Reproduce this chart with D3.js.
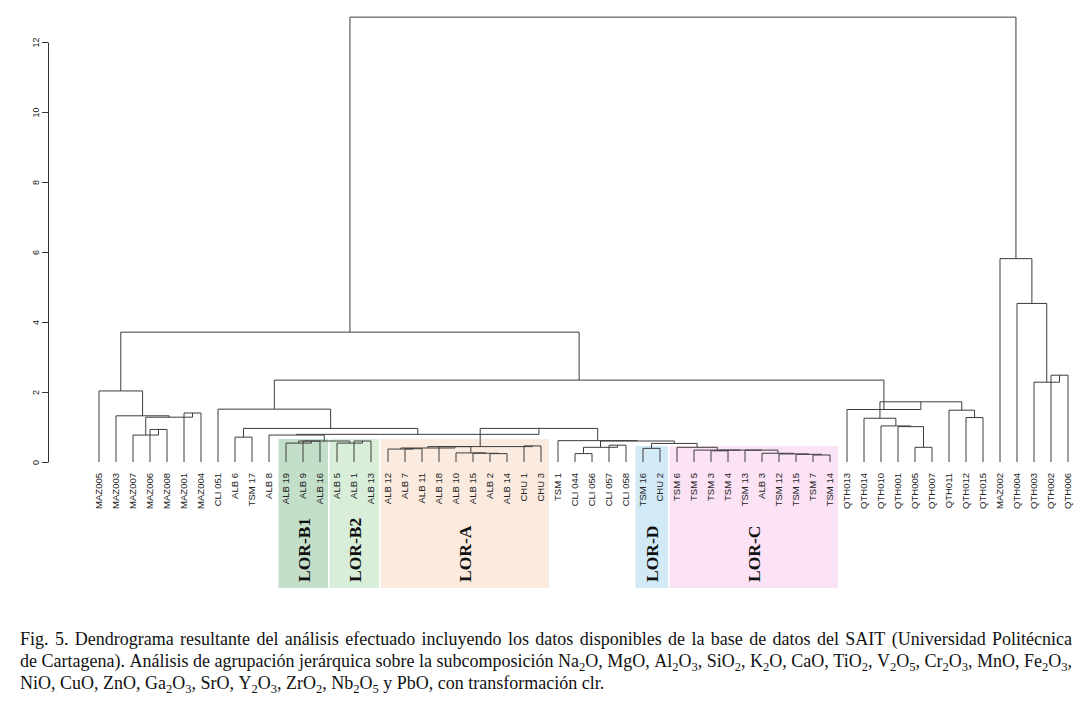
<!DOCTYPE html>
<html>
<head>
<meta charset="utf-8">
<script src="https://cdn.jsdelivr.net/npm/d3@7"></script>
<style>
  body { margin: 0; background: #fff; }
  svg { display: block; }
</style>
</head>
<body>
<svg id="chart" width="1092" height="704"></svg>
<script>
// leaf labels in the order they are drawn
const leaves = [
  "MAZ005", "MAZ003", "MAZ007", "MAZ006", "MAZ008", "MAZ001", "MAZ004",
  "CLI 051", "ALB 6", "TSM 17", "ALB 8",
  "ALB 19", "ALB 9", "ALB 16", "ALB 5", "ALB 1", "ALB 13",
  "ALB 12", "ALB 7", "ALB 11", "ALB 18", "ALB 10", "ALB 15", "ALB 2", "ALB 14", "CHU 1", "CHU 3",
  "TSM 1", "CLI 044", "CLI 056", "CLI 057", "CLI 058",
  "TSM 16", "CHU 2",
  "TSM 6", "TSM 5", "TSM 3", "TSM 4", "TSM 13", "ALB 3", "TSM 12", "TSM 15", "TSM 7", "TSM 14",
  "QTH013", "QTH014", "QTH010", "QTH001", "QTH005", "QTH007", "QTH011", "QTH012", "QTH015",
  "MAZ002", "QTH004", "QTH003", "QTH002", "QTH006"
];

// hclust style merge table: negative = leaf (1-based), positive = earlier merge step
const merges = [
  [-4, -5], [-3, 1], [-6, -7], [2, 3], [-2, 4], [-1, 5],
  [-9, -10],
  [-13, -14], [-12, 8], [-16, -17], [-15, 10], [9, 11], [-11, 12],
  [-19, -20], [-18, 14], [-24, -25], [-23, 16], [-22, 17], [-21, 18], [15, 19], [-26, -27], [20, 21],
  [-29, -30], [-31, -32], [23, 24],
  [-33, -34],
  [-43, -44], [-42, 27], [-41, 28], [-40, 29], [-39, 30], [-37, -38], [32, 31], [-36, 33], [-35, 34],
  [26, 35], [25, 36], [-28, 37], [22, 38], [13, 39], [7, 40], [-8, 41],
  [-49, -50], [-48, 43], [-47, 44], [-46, 45], [-52, -53], [-51, 47], [46, 48], [-45, 49],
  [42, 50], [6, 51],
  [-57, -58], [-56, 53], [-55, 54], [-54, 55],
  [52, 56]
];

const heights = [
  0.93, 0.77, 1.40, 1.28, 1.32, 2.03,
  0.71,
  0.60, 0.54, 0.60, 0.54, 0.60, 0.77,
  0.38, 0.37, 0.24, 0.25, 0.26, 0.44, 0.40, 0.46, 0.44,
  0.24, 0.48, 0.42,
  0.39,
  0.20, 0.22, 0.23, 0.25, 0.34, 0.32, 0.34, 0.34, 0.42,
  0.53, 0.60, 0.61, 0.96, 0.79, 0.96, 1.51,
  0.42, 1.01, 1.03, 1.25, 1.27, 1.48, 1.72, 1.50,
  2.34, 3.71,
  2.48, 2.28, 4.53, 5.81,
  12.71
];

const yTicks = [0, 2, 4, 6, 8, 10, 12];

// highlighted clusters: first and last leaf of each band
const groups = [
  { name: "LOR-B1", from: "ALB 19", to: "ALB 16" },
  { name: "LOR-B2", from: "ALB 5", to: "ALB 13" },
  { name: "LOR-A", from: "ALB 12", to: "CHU 3" },
  { name: "LOR-D", from: "TSM 16", to: "CHU 2" },
  { name: "LOR-C", from: "TSM 6", to: "TSM 14" }
];
const groupStyle = {
  "LOR-B1": { fill: "#c3dec9", top: 439 },
  "LOR-B2": { fill: "#d8eed9", top: 439 },
  "LOR-A": { fill: "#fbebdf", top: 439 },
  "LOR-D": { fill: "#d2eaf6", top: 446 },
  "LOR-C": { fill: "#fbe3f5", top: 446 }
};

const captionLines = [
  "Fig. 5. Dendrograma resultante del análisis efectuado incluyendo los datos disponibles de la base de datos del SAIT (Universidad Politécnica",
  "de Cartagena). Análisis de agrupación jerárquica sobre la subcomposición Na_2O, MgO, Al_2O_3, SiO_2, K_2O, CaO, TiO_2, V_2O_5, Cr_2O_3, MnO, Fe_2O_3,",
  "NiO, CuO, ZnO, Ga_2O_3, SrO, Y_2O_3, ZrO_2, Nb_2O_5 y PbO, con transformación clr."
];

const svg = d3.select("#chart");
svg.append("rect").attr("width", 1092).attr("height", 704).attr("fill", "#fff");

const x = d3.scalePoint().domain(leaves).range([99, 1068]);
const y = d3.scaleLinear().domain([0, 12]).range([462, 42]);

// x position of every merge node
const nodeX = [];
const childX = c => c < 0 ? x(leaves[-c - 1]) : nodeX[c - 1];
const childH = c => c < 0 ? 0 : heights[c - 1];
merges.forEach((m, i) => {
  nodeX[i] = (childX(m[0]) + childX(m[1])) / 2;
});

// coloured bands
const bands = svg.append("g");
groups.forEach(g => {
  const st = groupStyle[g.name];
  const x0 = x(g.from) - 7.5, x1 = x(g.to) + 8;
  bands.append("rect")
    .attr("x", x0).attr("y", st.top)
    .attr("width", x1 - x0).attr("height", 588 - st.top)
    .attr("fill", st.fill);
  bands.append("text")
    .attr("transform", `translate(${(x0 + x1) / 2},582) rotate(-90)`)
    .attr("dy", "0.36em")
    .attr("font-family", "'Liberation Serif', 'Times New Roman', serif")
    .attr("font-weight", "bold")
    .attr("font-size", 17.5)
    .attr("fill", "#111")
    .text(g.name);
});

// dendrogram links
const tree = svg.append("g")
  .attr("fill", "none")
  .attr("stroke", "#3c3c3c")
  .attr("stroke-width", 1);
merges.forEach((m, i) => {
  const h = heights[i];
  const p = d3.path();
  p.moveTo(childX(m[0]), y(childH(m[0])));
  p.lineTo(childX(m[0]), y(h));
  p.lineTo(childX(m[1]), y(h));
  p.lineTo(childX(m[1]), y(childH(m[1])));
  tree.append("path").attr("d", p.toString());
});

// leaf labels
svg.append("g")
  .selectAll("text")
  .data(leaves)
  .join("text")
  .attr("transform", d => `translate(${x(d)},473) rotate(-90)`)
  .attr("text-anchor", "end")
  .attr("dy", "0.35em")
  .attr("font-family", "'Liberation Sans', Arial, sans-serif")
  .attr("font-size", 9.5)
  .attr("fill", "#222")
  .text(d => d);

// y axis with labels parallel to the axis
const axis = svg.append("g")
  .attr("transform", "translate(48,0)")
  .call(d3.axisLeft(y).tickValues(yTicks).tickSize(6).tickSizeOuter(0));
axis.selectAll("path, line").attr("stroke", "#333");
axis.selectAll("text")
  .attr("x", 0).attr("y", -9).attr("dy", 0)
  .attr("text-anchor", "middle")
  .attr("transform", "rotate(-90)")
  .attr("font-family", "'Liberation Sans', Arial, sans-serif")
  .attr("font-size", 9)
  .attr("fill", "#222");

// caption, first two lines justified
const cap = svg.append("g")
  .attr("font-family", "'Liberation Serif', 'Times New Roman', serif")
  .attr("font-size", 18)
  .attr("fill", "#111");
const capLeft = 20, capRight = 1072;
captionLines.forEach((line, li) => {
  const g = cap.append("g");
  const words = line.split(" ");
  const nodes = words.map(w => {
    const t = g.append("text").attr("y", 645 + li * 22);
    let shift = 0;
    w.split(/(_\d)/).filter(s => s.length).forEach(part => {
      if (part[0] === "_") {
        t.append("tspan").attr("dy", 4 - shift).attr("font-size", 12.5).text(part.slice(1));
        shift = 4;
      } else {
        t.append("tspan").attr("dy", -shift).text(part);
        shift = 0;
      }
    });
    return t;
  });
  const widths = nodes.map(t => t.node().getComputedTextLength());
  const total = d3.sum(widths);
  const gap = li < captionLines.length - 1
    ? (capRight - capLeft - total) / (words.length - 1)
    : 4.5;
  let cx = capLeft;
  nodes.forEach((t, i) => {
    t.attr("x", cx);
    cx += widths[i] + gap;
  });
});
</script>
</body>
</html>
